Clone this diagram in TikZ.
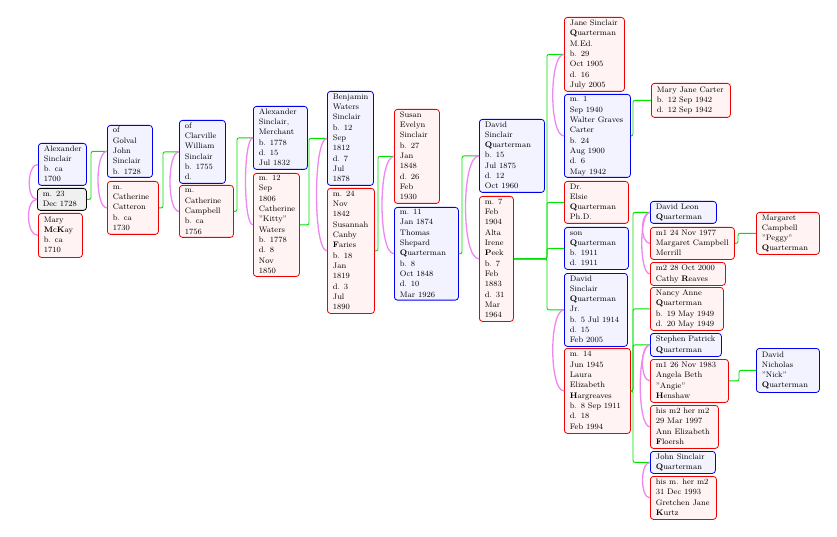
\documentclass[tikz,border=0pt]{standalone}
\usepackage{fontspec}
\definecolor{mblue}{RGB}{0,0,240}
\definecolor{mfill}{RGB}{243,243,255}
\definecolor{fred}{RGB}{240,0,0}
\definecolor{ffill}{RGB}{255,243,243}
\definecolor{ufill}{RGB}{240,240,240}
\definecolor{gline}{RGB}{0,225,0}
\definecolor{pline}{RGB}{240,135,240}
\newcommand\tx[2]{\makebox[\dimexpr#1pt-11pt\relax][l]{\begin{tabular}{@{}l@{}}#2\end{tabular}}}
\begin{document}
\begin{tikzpicture}[x=1pt,y=-1pt,
  gbox/.style={anchor=north west, rounded corners=3pt, line width=0.8pt, inner xsep=5.5pt, inner ysep=0pt, font=\fontsize{8}{10.3}\selectfont},
  male/.style={gbox, draw=mblue, fill=mfill},
  female/.style={gbox, draw=fred, fill=ffill},
  union/.style={gbox, draw=black, fill=ufill},
  child/.style={draw=gline, line width=0.9pt, rounded corners=2pt},
  spouse/.style={draw=pline, line width=1.3pt}]
\useasboundingbox (0,0) rectangle (837,537);

% column 1
\node[male, minimum width=48, minimum height=42] (alex) at (38,143) {\tx{48}{Alexander\\Sinclair\\b. ca\\1700}};
\node[union, minimum width=49, minimum height=22] (m1728) at (37,188) {\tx{49}{m. 23\\Dec 1728}};
\node[female, minimum width=44, minimum height=44] (mary) at (38,213) {\tx{44}{Mary\\\textbf{M}c\textbf{K}ay\\b. ca\\1710}};
% column 2
\node[male, minimum width=45, minimum height=52] (john) at (107,125) {\tx{45}{of\\Golval\\John\\Sinclair\\b. 1728}};
\node[female, minimum width=51, minimum height=53] (cathcat) at (107,181) {\tx{51}{m.\\Catherine\\Catteron\\b. ca\\1730}};
% column 3
\node[male, minimum width=46, minimum height=63] (william) at (179,120) {\tx{46}{of\\Clarville\\William\\Sinclair\\b. 1755\\d.}};
\node[female, minimum width=54, minimum height=52] (cathcamp) at (179,185) {\tx{54}{m.\\Catherine\\Campbell\\b. ca\\1756}};
% column 4
\node[male, minimum width=54, minimum height=63] (alexm) at (253,106) {\tx{54}{Alexander\\Sinclair,\\Merchant\\b. 1778\\d. 15\\Jul 1832}};
\node[female, minimum width=46, minimum height=103] (kitty) at (253,173) {\tx{46}{m. 12\\Sep\\1806\\Catherine\\"Kitty"\\Waters\\b. 1778\\d. 8\\Nov\\1850}};
% column 5
\node[male, minimum width=46, minimum height=94] (benj) at (327,91) {\tx{46}{Benjamin\\Waters\\Sinclair\\b. 12\\Sep\\1812\\d. 7\\Jul\\1878}};
\node[female, minimum width=47, minimum height=125] (susannah) at (327,188) {\tx{47}{m. 24\\Nov\\1842\\Susannah\\Canby\\\textbf{F}aries\\b. 18\\Jan\\1819\\d. 3\\Jul\\1890}};
% column 6
\node[female, minimum width=45, minimum height=94] (susan) at (394,109) {\tx{45}{Susan\\Evelyn\\Sinclair\\b. 27\\Jan\\1848\\d. 26\\Feb\\1930}};
\node[male, minimum width=64, minimum height=91] (thomas) at (394,207) {\tx{64}{m. 11\\Jan 1874\\Thomas\\Shepard\\\textbf{Q}uarterman\\b. 8\\Oct 1848\\d. 10\\Mar 1926}};
% column 7
\node[male, minimum width=65, minimum height=73] (david) at (479,119) {\tx{65}{David\\Sinclair\\\textbf{Q}uarterman\\b. 15\\Jul 1875\\d. 12\\Oct 1960}};
\node[female, minimum width=34, minimum height=125] (alta) at (479,196) {\tx{34}{m. 7\\Feb\\1904\\Alta\\Irene\\\textbf{P}eek\\b. 7\\Feb\\1883\\d. 31\\Mar\\1964}};
% column 8
\node[female, minimum width=60, minimum height=74] (jane) at (564,17) {\tx{60}{Jane Sinclair\\\textbf{Q}uarterman\\M.Ed.\\b. 29\\Oct 1905\\d. 16\\July 2005}};
\node[male, minimum width=66, minimum height=83] (walter) at (564,94) {\tx{66}{m. 1\\Sep 1940\\Walter Graves\\Carter\\b. 24\\Aug 1900\\d. 6\\May 1942}};
\node[female, minimum width=64, minimum height=42] (elsie) at (564,181) {\tx{64}{Dr.\\Elsie\\\textbf{Q}uarterman\\Ph.D.}};
\node[male, minimum width=64, minimum height=42] (son) at (564,227) {\tx{64}{son\\\textbf{Q}uarterman\\b. 1911\\d. 1911}};
\node[male, minimum width=63, minimum height=73] (davidjr) at (564,273) {\tx{63}{David\\Sinclair\\\textbf{Q}uarterman\\Jr.\\b. 5 Jul 1914\\d. 15\\Feb 2005}};
\node[female, minimum width=66, minimum height=85] (laura) at (564,348) {\tx{66}{m. 14\\Jun 1945\\Laura\\Elizabeth\\\textbf{H}argreaves\\b. 8 Sep 1911\\d. 18\\Feb 1994}};
% column 9
\node[female, minimum width=79, minimum height=34] (mjc) at (651,83) {\tx{79}{Mary Jane Carter\\b. 12 Sep 1942\\d. 12 Sep 1942}};
\node[male, minimum width=66, minimum height=22] (dleon) at (650,201) {\tx{66}{David Leon\\\textbf{Q}uarterman}};
\node[female, minimum width=84, minimum height=32] (merrill) at (650,227) {\tx{84}{m1 24 Nov 1977\\Margaret Campbell\\Merrill}};
\node[female, minimum width=75, minimum height=23] (cathy) at (650,262) {\tx{75}{m2 28 Oct 2000\\Cathy \textbf{R}eaves}};
\node[female, minimum width=73, minimum height=43] (nancy) at (650,287) {\tx{73}{Nancy Anne\\\textbf{Q}uarterman\\b. 19 May 1949\\d. 20 May 1949}};
\node[male, minimum width=71, minimum height=23] (stephen) at (650,333) {\tx{71}{Stephen Patrick\\\textbf{Q}uarterman}};
\node[female, minimum width=78, minimum height=43] (angela) at (650,359) {\tx{78}{m1 26 Nov 1983\\Angela Beth\\"Angie"\\\textbf{H}enshaw}};
\node[female, minimum width=68, minimum height=43] (ann) at (650,405) {\tx{68}{his m2 her m2\\29 Mar 1997\\Ann Elizabeth\\\textbf{F}loersh}};
\node[male, minimum width=65, minimum height=22] (johnq) at (650,451) {\tx{65}{John Sinclair\\\textbf{Q}uarterman}};
\node[female, minimum width=66, minimum height=43] (gretchen) at (650,476) {\tx{66}{his m. her m2\\31 Dec 1993\\Gretchen Jane\\\textbf{K}urtz}};
% column 10
\node[female, minimum width=63, minimum height=42] (peggy) at (756,212) {\tx{63}{Margaret\\Campbell\\"Peggy"\\\textbf{Q}uarterman}};
\node[male, minimum width=63, minimum height=44] (nick) at (756,348) {\tx{63}{David\\Nicholas\\"Nick"\\\textbf{Q}uarterman}};

% parent-child connectors
\draw[child] (m1728.east) -| ([xshift=-16pt]john.west) -- (john.west);
\draw[child] (cathcat.east) -| ([xshift=-16pt]william.west) -- (william.west);
\draw[child] (cathcamp.east) -| ([xshift=-16pt]alexm.west) -- (alexm.west);
\draw[child] (kitty.east) -| ([xshift=-18pt]benj.west) -- (benj.west);
\draw[child] (susannah.east) -| ([xshift=-16pt]susan.west) -- (susan.west);
\draw[child] (thomas.east) -| ([xshift=-17pt]david.west) -- (david.west);
\foreach \c in {jane,elsie,son,davidjr}
  \draw[child] (alta.east) -| ([xshift=-17pt]\c.west) -- (\c.west);
\draw[child] (walter.east) -| ([xshift=-18pt]mjc.west) -- (mjc.west);
\foreach \c in {dleon,nancy,stephen,johnq}
  \draw[child] (laura.east) -| ([xshift=-17pt]\c.west) -- (\c.west);
\draw[child] (merrill.east) -| ([xshift=-18pt]peggy.west) -- (peggy.west);
\draw[child] (angela.east) -| ([xshift=-17pt]nick.west) -- (nick.west);

% spouse arcs
\draw[spouse] (alex.west) .. controls +(-11,0) and +(-11,0) .. (m1728.west);
\draw[spouse] (m1728.west) .. controls +(-12,0) and +(-12,0) .. (mary.west);
\draw[spouse] (john.west) .. controls +(-12,0) and +(-12,0) .. (cathcat.west);
\draw[spouse] (william.west) .. controls +(-12,0) and +(-12,0) .. (cathcamp.west);
\draw[spouse] (alexm.west) .. controls +(-10,0) and +(-10,0) .. (kitty.west);
\draw[spouse] (benj.west) .. controls +(-14,0) and +(-14,0) .. (susannah.west);
\draw[spouse] (susan.west) .. controls +(-16,0) and +(-16,0) .. (thomas.west);
\draw[spouse] (david.west) .. controls +(-18,0) and +(-18,0) .. (alta.west);
\draw[spouse] (jane.west) .. controls +(-15,0) and +(-15,0) .. (walter.west);
\draw[spouse] (davidjr.west) .. controls +(-15,0) and +(-15,0) .. (laura.west);
\draw[spouse] (dleon.west) .. controls +(-10,0) and +(-10,0) .. (merrill.west);
\draw[spouse] (dleon.west) .. controls +(-11,0) and +(-11,0) .. (cathy.west);
\draw[spouse] (stephen.west) .. controls +(-10,0) and +(-10,0) .. (angela.west);
\draw[spouse] (stephen.west) .. controls +(-13,0) and +(-13,0) .. (ann.west);
\draw[spouse] (johnq.west) .. controls +(-10,0) and +(-10,0) .. (gretchen.west);
\end{tikzpicture}
\end{document}
